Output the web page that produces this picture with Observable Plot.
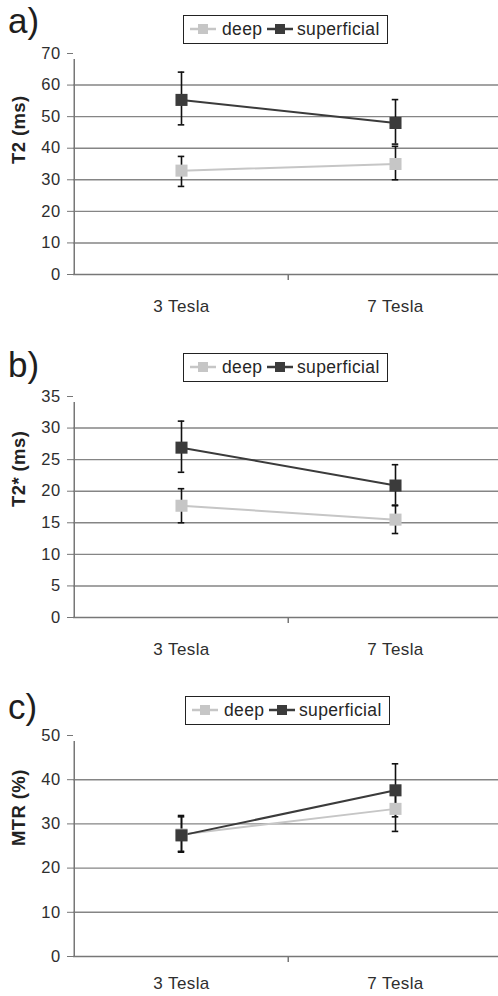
<!DOCTYPE html>
<html>
<head>
<meta charset="utf-8">
<script src="https://cdn.jsdelivr.net/npm/d3@7"></script>
<script src="https://cdn.jsdelivr.net/npm/@observablehq/plot@0.6"></script>
<style>
html, body { margin: 0; padding: 0; background: #fff; }
#root { position: relative; width: 498px; height: 996px; overflow: hidden; font-family: "Liberation Sans", Arial, sans-serif; background: #fff; }
.letter { position: absolute; font-size: 35px; line-height: 35px; color: #1e1e1e; }
.legend { position: absolute; width: 205px; height: 29px; border: 1.5px solid #222; box-sizing: border-box; background: #fff; }
.legend svg { position: absolute; top: 7px; }
.legend span { position: absolute; top: 4px; font-size: 17.5px; line-height: 18px; letter-spacing: 0.35px; color: #262626; white-space: nowrap; }
.plotsvg { position: absolute; left: 0; }
.plotsvg text { letter-spacing: 0.4px; }
</style>
</head>
<body>
<div id="root"></div>
<script>
// ---------- data ----------
const categories = ["3 Tesla", "7 Tesla"];
const seriesNames = ["deep", "superficial"];
const seriesColors = ["#c6c6c6", "#3b3b3b"];
const panelLetters = ["a)", "b)", "c)"];
const yLabels = ["T2 (ms)", "T2* (ms)", "MTR (%)"];

// a) T2
const t2Ticks = [0, 10, 20, 30, 40, 50, 60, 70];
const t2DeepMean = [32.9, 35.0];
const t2DeepLow = [27.9, 30.0];
const t2DeepHigh = [37.4, 40.6];
const t2SupMean = [55.3, 48.0];
const t2SupLow = [47.4, 41.3];
const t2SupHigh = [64.1, 55.4];

// b) T2*
const t2sTicks = [0, 5, 10, 15, 20, 25, 30, 35];
const t2sDeepMean = [17.7, 15.5];
const t2sDeepLow = [15.0, 13.3];
const t2sDeepHigh = [20.4, 17.7];
const t2sSupMean = [26.9, 20.9];
const t2sSupLow = [23.0, 17.8];
const t2sSupHigh = [31.1, 24.2];

// c) MTR
const mtrTicks = [0, 10, 20, 30, 40, 50];
const mtrDeepMean = [27.6, 33.4];
const mtrDeepLow = [23.6, 28.3];
const mtrDeepHigh = [31.6, 38.4];
const mtrSupMean = [27.4, 37.6];
const mtrSupLow = [23.8, 31.6];
const mtrSupHigh = [31.9, 43.6];

function buildRows(deep, sup) {
  const out = [];
  [deep, sup].forEach((s, si) => {
    categories.forEach((c, ci) => {
      out.push({cat: c, series: seriesNames[si], mean: s[0][ci], lo: s[1][ci], hi: s[2][ci]});
    });
  });
  return out;
}

const root = document.getElementById("root");
const xRange = [73, 502];
const bw = (xRange[1] - xRange[0]) / categories.length;

function makePanel(idx, rows, ticks, layout) {
  const yMax = ticks[ticks.length - 1];
  const grid = ticks.filter(t => t > 0 && t < yMax);
  const capInset = bw / 2 - 3.5;
  const svg = Plot.plot({
    width: 498,
    height: layout.height,
    marginTop: layout.mt,
    marginBottom: layout.mb,
    marginLeft: 73,
    marginRight: 0,
    style: {fontFamily: '"Liberation Sans", Arial, sans-serif', color: "#2e2e2e", background: "transparent", overflow: "visible"},
    x: {type: "band", domain: categories, range: xRange, padding: 0},
    y: {domain: [0, yMax]},
    color: {domain: seriesNames, range: seriesColors},
    marks: [
      Plot.ruleY(grid, {stroke: "#858585", strokeWidth: 1.4}),
      Plot.ruleY([0], {stroke: "#777", strokeWidth: 1.6}),
      Plot.ruleX([categories[0]], {x: d => d, dx: -bw / 2, y1: 0, y2: yMax, insetBottom: -6, stroke: "#777", strokeWidth: 1.5}),
      Plot.ruleX(categories.slice(1), {x: d => d, dx: -bw / 2, y1: 0, y2: 0, insetBottom: -6, stroke: "#777", strokeWidth: 1.5}),
      Plot.axisY({ticks: ticks, tickSize: 6, tickPadding: 7, label: null, fontSize: 16.5, stroke: "#777"}),
      Plot.axisX({tickSize: 0, tickPadding: layout.xPad, label: null, fontSize: 17}),
      Plot.text([yLabels[idx]], {frameAnchor: "left", dx: -54, rotate: -90, fontSize: 18.5, fontWeight: "bold", fill: "#222"}),
      Plot.line(rows, {x: "cat", y: "mean", z: "series", stroke: "series", strokeWidth: 2}),
      Plot.ruleX(rows, {x: "cat", y1: "lo", y2: "hi", stroke: "#111", strokeWidth: 1.6}),
      Plot.tickY(rows, {x: "cat", y: "lo", insetLeft: capInset, insetRight: capInset, stroke: "#111", strokeWidth: 1.6}),
      Plot.tickY(rows, {x: "cat", y: "hi", insetLeft: capInset, insetRight: capInset, stroke: "#111", strokeWidth: 1.6}),
      Plot.dot(rows, {x: "cat", y: "mean", symbol: "square", r: 6.8, fill: "series"})
    ]
  });
  svg.classList.add("plotsvg");
  svg.style.top = layout.top + "px";
  root.appendChild(svg);

  const letter = document.createElement("div");
  letter.className = "letter";
  letter.textContent = panelLetters[idx];
  letter.style.left = "8px";
  letter.style.top = layout.letterTop + "px";
  root.appendChild(letter);

  const legend = document.createElement("div");
  legend.className = "legend";
  legend.style.left = layout.legendLeft + "px";
  legend.style.top = layout.legendTop + "px";
  const offsets = [[6, 38], [83, 113]];
  seriesNames.forEach((name, i) => {
    const sw = document.createElementNS("http://www.w3.org/2000/svg", "svg");
    sw.setAttribute("width", 26); sw.setAttribute("height", 12);
    sw.style.left = offsets[i][0] + "px";
    sw.innerHTML = `<line x1="0" x2="26" y1="6" y2="6" stroke="${seriesColors[i]}" stroke-width="2.5"/>` +
      `<rect x="8" y="1" width="10" height="10" fill="${seriesColors[i]}"/>`;
    legend.appendChild(sw);
    const t = document.createElement("span");
    t.textContent = name;
    t.style.left = offsets[i][1] + "px";
    legend.appendChild(t);
  });
  root.appendChild(legend);
}

makePanel(0, buildRows([t2DeepMean, t2DeepLow, t2DeepHigh], [t2SupMean, t2SupLow, t2SupHigh]), t2Ticks,
  {top: 0, height: 330, mt: 53, mb: 56, xPad: 25, letterTop: 3, legendTop: 15, legendLeft: 183});
makePanel(1, buildRows([t2sDeepMean, t2sDeepLow, t2sDeepHigh], [t2sSupMean, t2sSupLow, t2sSupHigh]), t2sTicks,
  {top: 330, height: 330, mt: 66, mb: 43, xPad: 25, letterTop: 347, legendTop: 353, legendLeft: 183});
makePanel(2, buildRows([mtrDeepMean, mtrDeepLow, mtrDeepHigh], [mtrSupMean, mtrSupLow, mtrSupHigh]), mtrTicks,
  {top: 660, height: 336, mt: 75, mb: 40, xPad: 20, letterTop: 689, legendTop: 696, legendLeft: 185});
</script>
</body>
</html>
